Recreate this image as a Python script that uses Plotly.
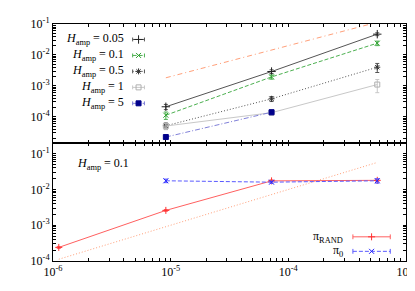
import plotly.graph_objects as go

# ---------------- data ----------------
inv_N = [9.1e-6, 7.2e-5, 5.7e-4]
inv_N_rand = [1.12e-6, 9.1e-6, 7.2e-5, 5.7e-4]

h005 = [2.1e-4, 2.9e-3, 4.7e-2]
h005_err = [0.4e-4, 0.4e-3, 0.5e-2]
h01 = [1.12e-4, 1.94e-3, 2.4e-2]
h01_err = [0.3e-4, 0.3e-3, 0.4e-2]
h05 = [5.1e-5, 3.8e-4, 4.0e-3]
h05_err = [1.2e-5, 0.7e-4, 1.3e-3]
h1 = [5.0e-5, 1.35e-4, 1.1e-3]
h1_err = [1.2e-5, 0.25e-4, 0.5e-3]
h5 = [2.2e-5, 1.4e-4]
h5_err = [0.2e-5, 0.25e-4]

ref_top_x = [9.1e-6, 1e-3]
ref_top_coef = 200.0
ref_bot_x = [1.12e-6, 5.7e-4]
ref_bot_coef = 100.0

pi_rand = [2.4e-4, 2.6e-3, 1.74e-2, 1.8e-2]
pi_rand_err = [0.15e-4, 0.15e-3, 0.12e-2, 0.15e-2]
pi_0 = [1.75e-2, 1.6e-2, 1.75e-2]
pi_0_err = [0.2e-2, 0.1e-2, 0.25e-2]

top_labels = ["0.05", "0.1", "0.5", "1", "5"]
x_decades = [-6, -5, -4, -3]
y_decades = [-5, -4, -3, -2, -1]


def log_ticks(decades):
    vals, text = [], []
    for d in decades:
        for m in range(1, 10):
            if m > 1 and d == decades[-1]:
                break
            vals.append(m * 10.0 ** d)
            text.append("10<sup>%d</sup>" % d if m == 1 else "")
    return vals, text


xtv, xtt = log_ticks(x_decades)
ytv, ytt = log_ticks(y_decades)

FONT = "Liberation Serif"
W, H = 415, 291
ML, MR, MT, MB = 45, 11, 8, 38

fig = go.Figure()


def eb(arr, color):
    return dict(type="data", array=arr, visible=True, color=color, thickness=1, width=2)


top_series = [
    (h005, h005_err, "#555555", "#222222", "solid", "cross-thin-open", 6),
    (h01, h01_err, "#4cb050", "#2ca02c", "4px,2px", "x-thin-open", 5),
    (h05, h05_err, "#555555", "#333333", "1px,2px", "asterisk-open", 5),
    (h1, h1_err, "#c8c8c8", "#b0b0b0", "solid", "square-open", 5),
    (h5, h5_err, "#8080d8", "#00008b", "5px,2px,1px,2px", "square", 5),
]

fig.add_trace(go.Scatter(x=ref_top_x, y=[ref_top_coef * v for v in ref_top_x],
                         mode="lines", line=dict(color="#ffa07a", width=1, dash="5px,3px,1px,3px"),
                         xaxis="x2", yaxis="y2", showlegend=False))

for vals, err, lc, mc, dash, sym, ms in top_series:
    xs = inv_N[:len(vals)]
    fig.add_trace(go.Scatter(
        x=xs, y=vals, mode="lines+markers",
        line=dict(color=lc, width=1, dash=dash),
        marker=dict(symbol=sym, size=ms, color=mc, line=dict(color=mc, width=1)),
        error_y=eb(err, lc),
        xaxis="x2", yaxis="y2", showlegend=False))

fig.add_trace(go.Scatter(x=ref_bot_x, y=[ref_bot_coef * v for v in ref_bot_x],
                         mode="lines", line=dict(color="#ffa07a", width=1, dash="1px,2px"),
                         xaxis="x", yaxis="y", showlegend=False))
fig.add_trace(go.Scatter(x=inv_N_rand, y=pi_rand, mode="lines+markers",
                         line=dict(color="#ff6060", width=1),
                         marker=dict(symbol="cross-thin-open", size=5, color="#ff3030",
                                     line=dict(color="#ff3030", width=1)),
                         error_y=eb(pi_rand_err, "#ff6060"),
                         xaxis="x", yaxis="y", showlegend=False))
fig.add_trace(go.Scatter(x=inv_N, y=pi_0, mode="lines+markers",
                         line=dict(color="#5a5aff", width=1, dash="4px,2px"),
                         marker=dict(symbol="x-thin-open", size=5, color="#2222ff",
                                     line=dict(color="#2222ff", width=1)),
                         error_y=eb(pi_0_err, "#5a5aff"),
                         xaxis="x", yaxis="y", showlegend=False))

# ---------- custom legends (invisible full-area axis in pixel coordinates) ----------
leg_top_y = [24, 40.5, 57, 73.5, 90]
for (vals, err, lc, mc, dash, sym, ms), lab, yy in zip(top_series, top_labels, leg_top_y):
    fig.add_trace(go.Scatter(x=[126, 138], y=[yy, yy], mode="lines",
                             line=dict(color=lc, width=1, dash=dash),
                             xaxis="x3", yaxis="y3", showlegend=False, hoverinfo="skip"))
    for cx in (126, 138):
        fig.add_trace(go.Scatter(x=[cx, cx], y=[yy - 2, yy + 2], mode="lines",
                                 line=dict(color=lc, width=1),
                                 xaxis="x3", yaxis="y3", showlegend=False, hoverinfo="skip"))
    fig.add_trace(go.Scatter(x=[132], y=[yy], mode="markers",
                             marker=dict(symbol=sym, size=ms, color=mc, line=dict(color=mc, width=1)),
                             xaxis="x3", yaxis="y3", showlegend=False, hoverinfo="skip"))
    fig.add_annotation(x=119, y=yy, xref="x3", yref="y3", xanchor="right", yanchor="middle",
                       text="<i>H</i><sub>amp</sub> = " + lab, showarrow=False,
                       font=dict(family=FONT, size=12, color="black"))

leg_bot = [("π<sub>RAND</sub>", 228, "#ff6060", "#ff3030", "solid", "cross-thin-open"),
           ("π<sub>0</sub>", 243, "#5a5aff", "#2222ff", "4px,2px", "x-thin-open")]
for lab, yy, lc, mc, dash, sym in leg_bot:
    fig.add_trace(go.Scatter(x=[350, 388], y=[yy, yy], mode="lines",
                             line=dict(color=lc, width=1, dash=dash),
                             xaxis="x3", yaxis="y3", showlegend=False, hoverinfo="skip"))
    for cx in (350, 388):
        fig.add_trace(go.Scatter(x=[cx, cx], y=[yy - 2.5, yy + 2.5], mode="lines",
                                 line=dict(color=lc, width=1),
                                 xaxis="x3", yaxis="y3", showlegend=False, hoverinfo="skip"))
    fig.add_trace(go.Scatter(x=[369], y=[yy], mode="markers",
                             marker=dict(symbol=sym, size=5, color=mc, line=dict(color=mc, width=1)),
                             xaxis="x3", yaxis="y3", showlegend=False, hoverinfo="skip"))
    fig.add_annotation(x=342, y=yy, xref="x3", yref="y3", xanchor="right", yanchor="middle",
                       text=lab, showarrow=False, font=dict(family=FONT, size=12, color="black"))

fig.add_annotation(x=67, y=153, xref="x3", yref="y3", xanchor="left", yanchor="middle",
                   text="<i>H</i><sub>amp</sub> = 0.1", showarrow=False,
                   font=dict(family=FONT, size=12, color="black"))

fig.add_annotation(x=12, y=48, xref="x3", yref="y3", xanchor="center", yanchor="middle",
                   text="1-<i>q</i><sub>ff</sub>", textangle=-90, showarrow=False,
                   font=dict(family=FONT, size=13, color="black"))
fig.add_annotation(x=12, y=193, xref="x3", yref="y3", xanchor="center", yanchor="middle",
                   text="<i>W</i>", textangle=-90, showarrow=False,
                   font=dict(family=FONT, size=14, color="black"))
fig.add_annotation(x=225, y=276, xref="x3", yref="y3", xanchor="center", yanchor="middle",
                   text="1/<i>N</i>", showarrow=False,
                   font=dict(family=FONT, size=11, color="black"))

split = (253 - 131) / (253 - 8)

common_ax = dict(type="log", showgrid=False, zeroline=False, showline=True, linecolor="black",
                 linewidth=1, mirror="allticks", ticks="inside", ticklen=3, tickcolor="black",
                 tickmode="array", tickfont=dict(family=FONT, size=12, color="black"))

fig.update_layout(
    width=W, height=H, margin=dict(l=ML, r=MR, t=MT, b=MB),
    paper_bgcolor="white", plot_bgcolor="rgba(0,0,0,0)", showlegend=False,
    font=dict(family=FONT, size=12, color="black"),
    xaxis=dict(**common_ax, range=[-6, -3], tickvals=xtv, ticktext=xtt, anchor="y", domain=[0, 1]),
    yaxis=dict(**common_ax, range=[-4, -0.7], tickvals=ytv, ticktext=ytt, anchor="x", domain=[0, split]),
    xaxis2=dict(**common_ax, range=[-6, -3], tickvals=xtv, showticklabels=False, anchor="y2", domain=[0, 1]),
    yaxis2=dict(**common_ax, range=[-4.85, -0.999], tickvals=ytv, ticktext=ytt, anchor="x2", domain=[split, 1]),
    xaxis3=dict(range=[ML, W - MR], visible=False, domain=[0, 1], anchor="y3", fixedrange=True),
    yaxis3=dict(range=[H - MB, MT], visible=False, domain=[0, 1], anchor="x3", fixedrange=True),
)

fig.write_html("out.html")
